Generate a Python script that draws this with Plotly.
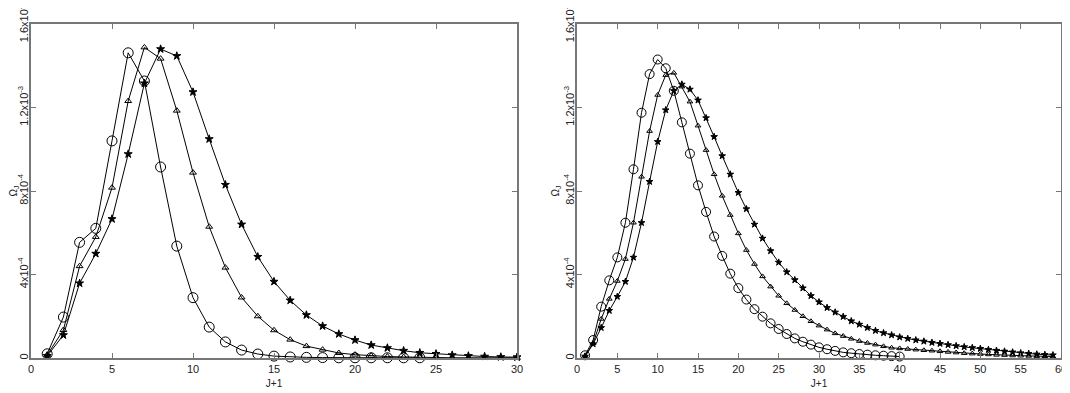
import plotly.graph_objects as go

# left panel, J+1 = 1..30
j_left = list(range(1, 31))
left_circle = [2e-5, 1.96e-4, 5.54e-4, 6.21e-4, 1.04e-3, 1.462e-3, 1.327e-3, 9.15e-4, 5.36e-4, 2.89e-4,
               1.48e-4, 7.7e-5, 3.8e-5, 1.9e-5, 9e-6, 5e-6, 3e-6, 2e-6, 1e-6, 1e-6,
               1e-6, 1e-6, 1e-6, 1e-6]
left_triangle = [1.5e-5, 1.34e-4, 4.4e-4, 5.8e-4, 8.16e-4, 1.231e-3, 1.488e-3, 1.434e-3, 1.185e-3, 8.88e-4,
                 6.29e-4, 4.33e-4, 2.9e-4, 2.0e-4, 1.33e-4, 8.8e-5, 5.7e-5, 4.0e-5, 2.4e-5, 1.6e-5,
                 1.1e-5, 7e-6, 5e-6, 3e-6, 2e-6, 1e-6, 1e-6, 1e-6, 1e-6, 1e-6]
left_star = [1e-5, 1.1e-4, 3.58e-4, 5.0e-4, 6.66e-4, 9.77e-4, 1.316e-3, 1.48e-3, 1.447e-3, 1.274e-3,
             1.049e-3, 8.3e-4, 6.4e-4, 4.85e-4, 3.66e-4, 2.76e-4, 2.06e-4, 1.53e-4, 1.15e-4, 8.6e-5,
             6.2e-5, 4.8e-5, 3.5e-5, 2.5e-5, 2e-5, 1.4e-5, 1e-5, 7e-6, 5e-6, 4e-6]

# right panel, J+1 = 1..59
j_right = list(range(1, 60))
right_circle = [1.3e-5, 8.6e-5, 2.46e-4, 3.72e-4, 4.82e-4, 6.48e-4, 9.04e-4, 1.175e-3, 1.36e-3, 1.43e-3,
                1.388e-3, 1.28e-3, 1.129e-3, 9.79e-4, 8.27e-4, 7.0e-4, 5.82e-4, 4.89e-4, 4.04e-4, 3.35e-4,
                2.8e-4, 2.34e-4, 1.98e-4, 1.66e-4, 1.39e-4, 1.15e-4, 9.4e-5, 7.8e-5, 6.4e-5, 5.1e-5,
                4.2e-5, 3.4e-5, 2.7e-5, 2.3e-5, 1.9e-5, 1.6e-5, 1.3e-5, 1.1e-5, 9e-6, 7e-6]
right_triangle = [1e-5, 7e-5, 1.87e-4, 2.83e-4, 3.69e-4, 4.74e-4, 6.48e-4, 8.68e-4, 1.087e-3, 1.26e-3,
                  1.355e-3, 1.366e-3, 1.30e-3, 1.228e-3, 1.113e-3, 9.96e-4, 8.8e-4, 7.77e-4, 6.85e-4, 5.97e-4,
                  5.17e-4, 4.5e-4, 3.91e-4, 3.42e-4, 2.98e-4, 2.62e-4, 2.3e-4, 2.0e-4, 1.76e-4, 1.55e-4,
                  1.36e-4, 1.18e-4, 1.05e-4, 9.2e-5, 8.1e-5, 7.2e-5, 6.4e-5, 5.6e-5, 4.9e-5, 4.6e-5,
                  4.3e-5, 4.0e-5, 3.7e-5, 3.5e-5, 3.2e-5, 2.9e-5, 2.6e-5, 2.3e-5, 2.1e-5, 1.9e-5,
                  1.7e-5, 1.5e-5, 1.4e-5, 1.2e-5, 1.1e-5, 1.0e-5, 9e-6, 8e-6, 7e-6]
right_star = [8e-6, 6.7e-5, 1.45e-4, 2.27e-4, 2.94e-4, 3.66e-4, 4.82e-4, 6.48e-4, 8.45e-4, 1.036e-3,
              1.188e-3, 1.28e-3, 1.311e-3, 1.287e-3, 1.235e-3, 1.15e-3, 1.06e-3, 9.68e-4, 8.8e-4, 7.92e-4,
              7.14e-4, 6.4e-4, 5.73e-4, 5.13e-4, 4.58e-4, 4.12e-4, 3.74e-4, 3.35e-4, 2.98e-4, 2.68e-4,
              2.41e-4, 2.19e-4, 1.98e-4, 1.77e-4, 1.61e-4, 1.45e-4, 1.31e-4, 1.2e-4, 1.1e-4, 1.0e-4,
              9.3e-5, 8.6e-5, 8.0e-5, 7.4e-5, 6.9e-5, 6.3e-5, 5.8e-5, 5.3e-5, 4.9e-5, 4.5e-5,
              4.0e-5, 3.6e-5, 3.2e-5, 2.8e-5, 2.4e-5, 2.1e-5, 1.8e-5, 1.6e-5, 1.4e-5]

y_tickvals = [0, 4e-4, 8e-4, 1.2e-3, 1.6e-3]
y_ticktext = ['0', '4x10<sup>-4</sup>', '8x10<sup>-4</sup>', '1.2x10<sup>-3</sup>', '1.6x10<sup>-3</sup>']

# page body has an 8px margin, so the figure is a bit smaller and shifted
W, H = 1062, 385
ML, MR, MT, MB = 23, 9, 16, 35
PW = W - ML - MR

fig = go.Figure()

def add_series(x, y, symbol, size, xa, ya):
    fig.add_trace(go.Scatter(
        x=x[:len(y)], y=y, mode='lines+markers', xaxis=xa, yaxis=ya,
        line=dict(color='black', width=1),
        marker=dict(symbol=symbol, size=size, color='black',
                    line=dict(color='black', width=1)),
        showlegend=False, cliponaxis=False))

add_series(j_left, left_circle, 'circle-open', 10, 'x', 'y')
add_series(j_left, left_triangle, 'triangle-up-open', 6, 'x', 'y')
add_series(j_left, left_star, 'star', 6, 'x', 'y')
add_series(j_right, right_circle, 'circle-open', 9, 'x2', 'y2')
add_series(j_right, right_triangle, 'triangle-up-open', 5, 'x2', 'y2')
add_series(j_right, right_star, 'star', 5, 'x2', 'y2')

FONT = 'Liberation Sans, Arial, sans-serif'
axis_font = dict(family=FONT, size=11, color='#222')

def xaxis(dom, rng, anchor):
    return dict(domain=dom, range=rng, dtick=5, tick0=0, anchor=anchor, automargin=False,
                ticks='inside', ticklen=5, tickcolor='#777', mirror='ticks', ticklabeloverflow='allow',
                showline=True, linecolor='#777', linewidth=1.5, showgrid=False, zeroline=False,
                tickfont=axis_font,
                title=dict(text='J+1', font=dict(family=FONT, size=10, color='#222'), standoff=6))

def yaxis(anchor):
    return dict(domain=[0, 1], range=[0, 1.6e-3], tickvals=y_tickvals, ticktext=y_ticktext, anchor=anchor,
                automargin=False, ticks='inside', ticklen=5, tickcolor='#777', mirror='ticks', tickangle=-90,
                ticklabeloverflow='allow', ticklabelstandoff=-3,
                showline=True, linecolor='#777', linewidth=1.5, showgrid=False, zeroline=False,
                tickfont=axis_font,
                title=dict(text='Ω<sub>J</sub>', font=dict(family=FONT, size=10, color='#222'), standoff=0))

fig.update_layout(
    width=W, height=H,
    margin=dict(l=ML, r=MR, t=MT, b=MB),
    paper_bgcolor='white', plot_bgcolor='white',
    xaxis=xaxis([0, (509 - ML) / PW], [0, 30], 'y'),
    yaxis=yaxis('x'),
    xaxis2=xaxis([(569 - ML) / PW, 1], [0, 60], 'y2'),
    yaxis2=yaxis('x2'),
)

fig.write_html("out.html")
